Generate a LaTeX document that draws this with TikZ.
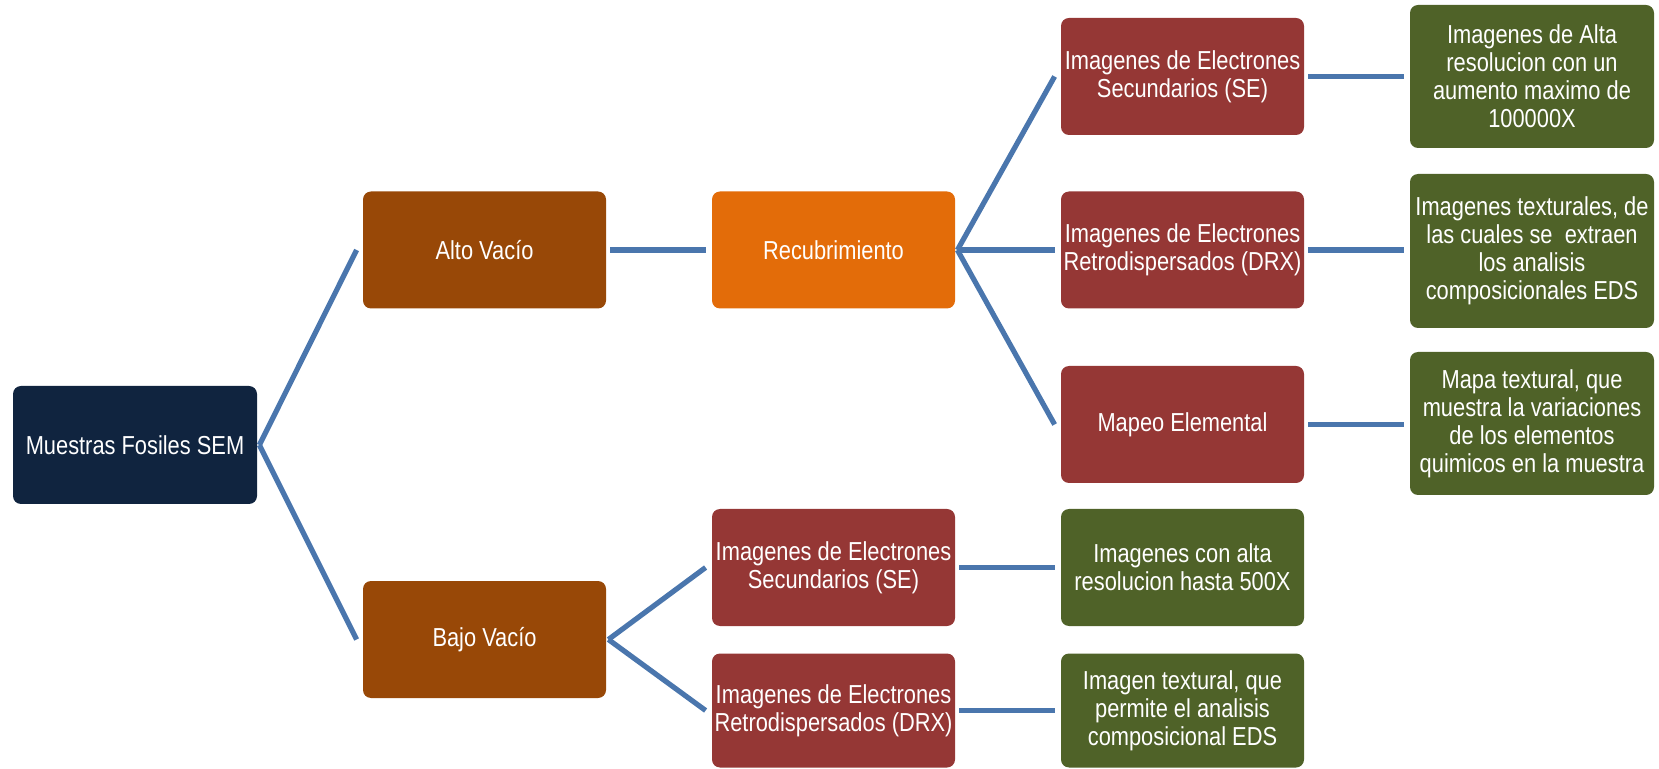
\documentclass[tikz,border=0pt]{standalone}
\usepackage{fontspec}
\newfontfamily\narrow[FakeStretch=0.84]{Liberation Sans}
\definecolor{navy}{HTML}{10243F}
\definecolor{brownbox}{HTML}{984807}
\definecolor{orangebox}{HTML}{E36C09}
\definecolor{redbox}{HTML}{953735}
\definecolor{greenbox}{HTML}{4F6228}
\definecolor{linkblue}{HTML}{4A76AD}
\tikzset{
  box/.style={rounded corners=4pt, text=white, align=center, inner sep=0pt,
    font=\narrow\fontsize{13}{14}\selectfont, minimum width=121.5pt, minimum height=58.5pt},
  rootbox/.style={box, fill=navy},
  vacbox/.style={box, fill=brownbox},
  recbox/.style={box, fill=orangebox},
  techbox/.style={box, fill=redbox},
  resbox/.style={box, fill=greenbox},
  link/.style={draw=linkblue, line width=2.6pt}
}
\begin{document}
\begin{tikzpicture}[x=0.5pt,y=-0.5pt]
\useasboundingbox (0,0) rectangle (1659,769);
\node[rootbox, minimum width=122pt, minimum height=59pt] (root) at (135,445) {Muestras Fosiles SEM};
\node[vacbox] (alto) at (484.5,250) {Alto Vacío};
\node[vacbox] (bajo) at (484.5,639.5) {Bajo Vacío};
\node[recbox] (recub) at (833.5,250) {Recubrimiento};
\node[techbox] (se1) at (1182.5,76.5) {Imagenes de Electrones\\Secundarios (SE)};
\node[techbox] (drx1) at (1182.5,250) {Imagenes de Electrones\\Retrodispersados (DRX)};
\node[techbox] (mapeo) at (1182.5,424.5) {Mapeo Elemental};
\node[resbox, minimum width=122pt, minimum height=71.5pt] (g1) at (1532,76.5) {Imagenes de Alta\\resolucion con un\\aumento maximo de\\100000X};
\node[resbox, minimum width=122pt, minimum height=77pt] (g2) at (1532,251) {Imagenes texturales, de\\las cuales se~ extraen\\los analisis\\composicionales EDS};
\node[resbox, minimum width=122pt, minimum height=71.5pt] (g3) at (1532,423.5) {Mapa textural, que\\muestra la variaciones\\de los elementos\\quimicos en la muestra};
\node[techbox] (se2) at (833.5,567.5) {Imagenes de Electrones\\Secundarios (SE)};
\node[techbox, minimum height=57pt] (drx2) at (833.5,710.5) {Imagenes de Electrones\\Retrodispersados (DRX)};
\node[resbox] (g4) at (1182.5,567.5) {Imagenes con alta\\resolucion hasta 500X};
\node[resbox, minimum height=57pt] (g5) at (1182.5,710.5) {Imagen textural, que\\permite el analisis\\composicional EDS};
\draw[link] ([xshift=1pt]root.east) -- ([xshift=-3pt]alto.west);
\draw[link] ([xshift=1pt]root.east) -- ([xshift=-3pt]bajo.west);
\draw[link] ([xshift=2pt]alto.east) -- ([xshift=-3pt]recub.west);
\draw[link] ([xshift=1pt]recub.east) -- ([xshift=-3pt]se1.west);
\draw[link] ([xshift=1pt]recub.east) -- ([xshift=-3pt]drx1.west);
\draw[link] ([xshift=1pt]recub.east) -- ([xshift=-3pt]mapeo.west);
\draw[link] ([xshift=1pt]bajo.east) -- ([xshift=-3pt]se2.west);
\draw[link] ([xshift=1pt]bajo.east) -- ([xshift=-3pt]drx2.west);
\draw[link] ([xshift=2pt]se1.east) -- ([xshift=-3pt]se1.east -| g1.west);
\draw[link] ([xshift=2pt]drx1.east) -- ([xshift=-3pt]drx1.east -| g2.west);
\draw[link] ([xshift=2pt]mapeo.east) -- ([xshift=-3pt]mapeo.east -| g3.west);
\draw[link] ([xshift=2pt]se2.east) -- ([xshift=-3pt]g4.west);
\draw[link] ([xshift=2pt]drx2.east) -- ([xshift=-3pt]g5.west);
\end{tikzpicture}
\end{document}
